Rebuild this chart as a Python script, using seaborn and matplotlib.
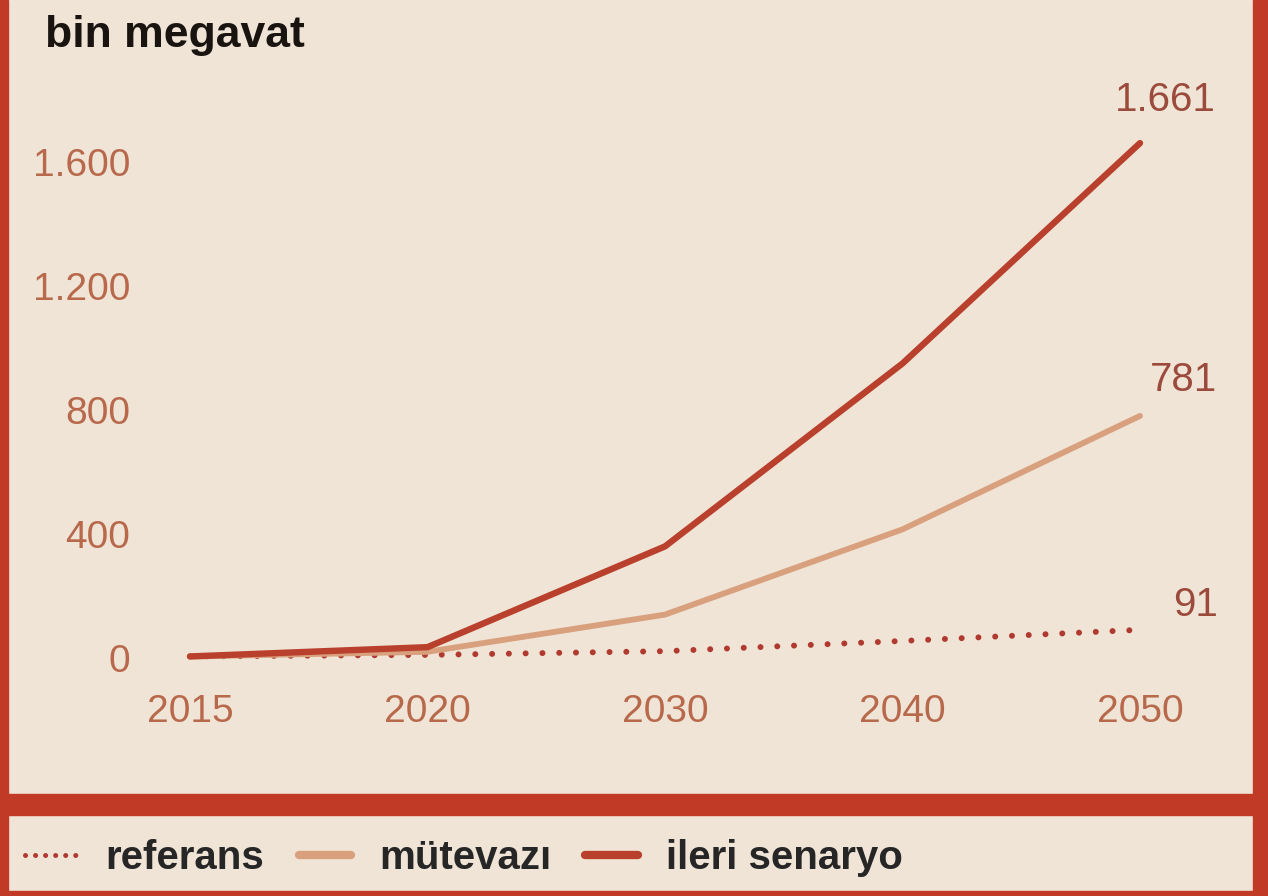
import matplotlib
matplotlib.use("Agg")
import matplotlib.pyplot as plt
from matplotlib.lines import Line2D
from matplotlib.patches import Rectangle
import seaborn as sns
import pandas as pd

years = ["2015", "2020", "2030", "2040", "2050"]
referans = [5, 10, 22, 55, 91]
mutevazi = [5, 20, 140, 415, 781]
ileri = [5, 35, 360, 950, 1661]
end_labels = ["91", "781", "1.661"]
y_ticks = [0, 400, 800, 1200, 1600]
y_tick_labels = ["0", "400", "800", "1.200", "1.600"]
legend_labels = ["referans", "mütevazı", "ileri senaryo"]

BG = "#efe4d6"
RED = "#c13a26"
C_ILERI = "#b9402c"
C_MUT = "#d9a07e"
C_REF = "#b03a30"
TICK_C = "#b8694c"
ANN_C = "#9c4a3c"

sns.set_theme(style="white")
plt.rcParams["font.family"] = ["Liberation Sans", "DejaVu Sans"]

W, H = 1268, 896
fig = plt.figure(figsize=(W / 100, H / 100), dpi=100, facecolor=BG)

L, R, B, T = 140, 1245, 680, 90
ax = fig.add_axes([L / W, 1 - B / H, (R - L) / W, (B - T) / H])
ax.set_facecolor("none")

df = pd.DataFrame({"year": years, "referans": referans,
                   "mutevazi": mutevazi, "ileri": ileri})

sns.lineplot(data=df, x="year", y="referans", ax=ax, color=C_REF,
             linewidth=4.3, sort=False)
ax.lines[-1].set_dashes((0.01, 2.8))
ax.lines[-1].set_dash_capstyle("round")
sns.lineplot(data=df, x="year", y="mutevazi", ax=ax, color=C_MUT,
             linewidth=4.2, sort=False)
sns.lineplot(data=df, x="year", y="ileri", ax=ax, color=C_ILERI,
             linewidth=4.6, sort=False)

unit_x = 237.5
unit_y = 0.31
ax.set_xlim((L - 190) / unit_x, (R - 190) / unit_x)
ax.set_ylim(-(B - 658) / unit_y, (658 - T) / unit_y)

ax.set_yticks(y_ticks)
ax.set_yticklabels(y_tick_labels)
ax.tick_params(axis="both", length=0, labelsize=28, labelcolor=TICK_C)
ax.tick_params(axis="y", pad=7)
ax.tick_params(axis="x", pad=10)
ax.set_xlabel("")
ax.set_ylabel("")
for s in ax.spines.values():
    s.set_visible(False)
ax.grid(False)

# end labels
offsets = [(40, 18), (31, 26), (18, 31)]
series_end = [referans[-1], mutevazi[-1], ileri[-1]]
for lab, yv, off in zip(end_labels, series_end, offsets):
    ax.annotate(lab, xy=(len(years) - 1, yv), xytext=off,
                textcoords="offset points", ha="center", va="center",
                fontsize=29, color=ANN_C)

fig.text(45 / W, 1 - 35 / H, "bin megavat", fontsize=32, fontweight="bold",
         color="#1a1411", ha="left", va="center")

# frame pieces
fig.patches.append(Rectangle((0, 0), 8 / W, 1, transform=fig.transFigure,
                             color=RED, zorder=5))
fig.patches.append(Rectangle((1253 / W, 0), 15 / W, 1, transform=fig.transFigure,
                             color=RED, zorder=5))
fig.patches.append(Rectangle((0, 1 - 815 / H), 1, 21 / H, transform=fig.transFigure,
                             color=RED, zorder=5))
fig.patches.append(Rectangle((0, 0), 1, 5 / H, transform=fig.transFigure,
                             color=RED, zorder=5))

handles = [
    Line2D([], [], color=C_REF, linewidth=3.6, dashes=(0.01, 2.0),
           dash_capstyle="round"),
    Line2D([], [], color=C_MUT, linewidth=6),
    Line2D([], [], color=C_ILERI, linewidth=6),
]
fig.legend(handles, legend_labels, loc="center left",
           bbox_to_anchor=(25 / W, 38 / H), ncol=3, frameon=False,
           prop={"size": 29, "weight": "bold"}, handlelength=1.3,
           handletextpad=0.7, columnspacing=0.85, borderpad=0,
           borderaxespad=0)

fig.savefig("out.png", dpi=100, facecolor=BG)
